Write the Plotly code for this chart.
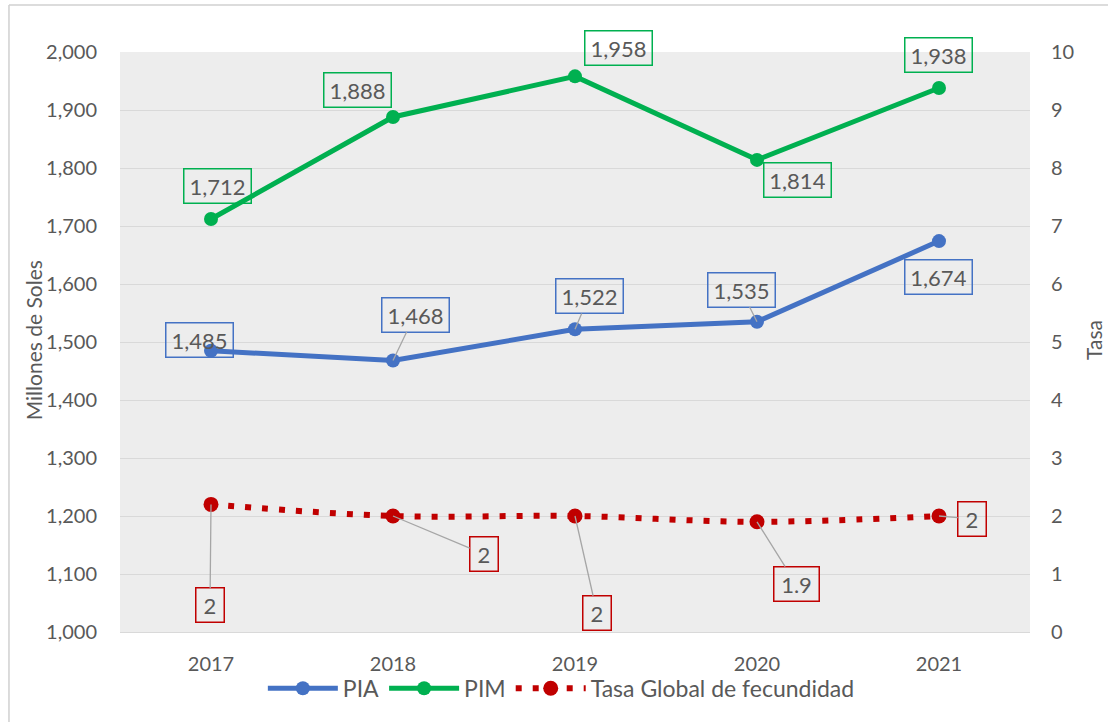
import plotly.graph_objects as go

years = ["2017", "2018", "2019", "2020", "2021"]
pia = [1485, 1468, 1522, 1535, 1674]
pim = [1712, 1888, 1958, 1814, 1938]
tasa = [2.2, 2.0, 2.0, 1.9, 2.0]
tasa_labels = ["2", "2", "2", "1.9", "2"]

BLUE = "#4472C4"
GREEN = "#00B050"
RED = "#C00000"
TXT = "#595959"
FONT = "Lato, sans-serif"

fig = go.Figure()
fig.add_trace(go.Scatter(x=years, y=pia, name="PIA", mode="lines+markers",
                         line=dict(color=BLUE, width=5), marker=dict(size=14, color=BLUE)))
fig.add_trace(go.Scatter(x=years, y=pim, name="PIM", mode="lines+markers",
                         line=dict(color=GREEN, width=5), marker=dict(size=14, color=GREEN)))
fig.add_trace(go.Scatter(x=years, y=tasa, name="Tasa Global de fecundidad", mode="lines+markers",
                         yaxis="y2", line=dict(color=RED, width=6, dash="6px,11px", shape="spline"),
                         marker=dict(size=15, color=RED)))

# label offsets (pixels) for data labels
pim_off = [(6, -33), (-36, -27), (43, -28), (40, 20), (-1, -33)]
pia_off = [(-12, -11), (22, -46), (14, -33), (-16, -32), (-1, 36)]
pia_lead = [False, True, True, True, False]
tasa_off = [(-1, 101), (91, 38), (22, 97), (39, 62), (33, 3)]

ann = []
def label(i, y, text, color, off, lead, yref="y", width=56):
    ann.append(dict(x=i, y=y, xref="x", yref=yref, text=text, showarrow=True,
                    ax=off[0], ay=off[1], arrowhead=0, arrowwidth=1.3, standoff=0,
                    arrowcolor="#A6A6A6" if lead else "rgba(0,0,0,0)",
                    bordercolor=color, borderwidth=1.5, borderpad=5,
                    bgcolor="rgba(0,0,0,0)",
                    width=width, height=23, align="center",
                    font=dict(family=FONT, size=22, color=TXT)))

for i in range(len(years)):
    label(i, pim[i], f"{pim[i]:,}", GREEN, pim_off[i], False)
    label(i, pia[i], f"{pia[i]:,}", BLUE, pia_off[i], pia_lead[i])
    t = tasa_labels[i]
    label(i, tasa[i], t, RED, tasa_off[i], True, yref="y2", width=17 if len(t) == 1 else 34)

ann.append(dict(text="Millones de Soles", xref="paper", yref="paper", x=-0.0956, y=0.503,
                xanchor="center", yanchor="middle",
                textangle=-90, showarrow=False, font=dict(family=FONT, size=21, color=TXT)))
ann.append(dict(text="Tasa", xref="paper", yref="paper", x=1.069, y=0.503,
                xanchor="center", yanchor="middle",
                textangle=-90, showarrow=False, font=dict(family=FONT, size=21, color=TXT)))

fig.update_layout(
    width=1108, height=722,
    margin=dict(l=120, r=78, t=52, b=90),
    paper_bgcolor="white", plot_bgcolor="#EDEDED",
    font=dict(family=FONT, size=20, color=TXT),
    showlegend=True,
    legend=dict(orientation="h", x=0.485, xanchor="center", y=-0.097, yanchor="middle",
                itemwidth=70, tracegroupgap=0,
                font=dict(family=FONT, size=23, color=TXT), bgcolor="rgba(0,0,0,0)"),
    xaxis=dict(type="category", range=[-0.5, 4.5], showgrid=False, showline=True,
               linecolor="#D9D9D9", linewidth=1.3, ticklabelstandoff=14,
               tickfont=dict(family=FONT, size=20, color=TXT), fixedrange=True),
    yaxis=dict(range=[1000, 2000], dtick=100, tickformat=",", showgrid=True,
               gridcolor="#D9D9D9", gridwidth=1.3, zeroline=False, ticklabelstandoff=22,
               tickfont=dict(family=FONT, size=20, color=TXT)),
    yaxis2=dict(range=[0, 10], dtick=1, overlaying="y", side="right", showgrid=False,
                zeroline=False, ticklabelstandoff=20, tickfont=dict(family=FONT, size=20, color=TXT)),
    annotations=ann,
    shapes=[dict(type="line", xref="paper", yref="paper", x0=-0.1220, x1=1.2, y0=1.081, y1=1.081,
                 line=dict(color="#D0D0D0", width=1.5)),
            dict(type="line", xref="paper", yref="paper", x0=-0.1220, x1=-0.1220, y0=1.081, y1=-0.3,
                 line=dict(color="#D0D0D0", width=1.5))],
)

fig.write_html("out.html", config={"displayModeBar": False},
               post_script="document.body.style.margin='0';document.body.style.overflow='hidden';")
